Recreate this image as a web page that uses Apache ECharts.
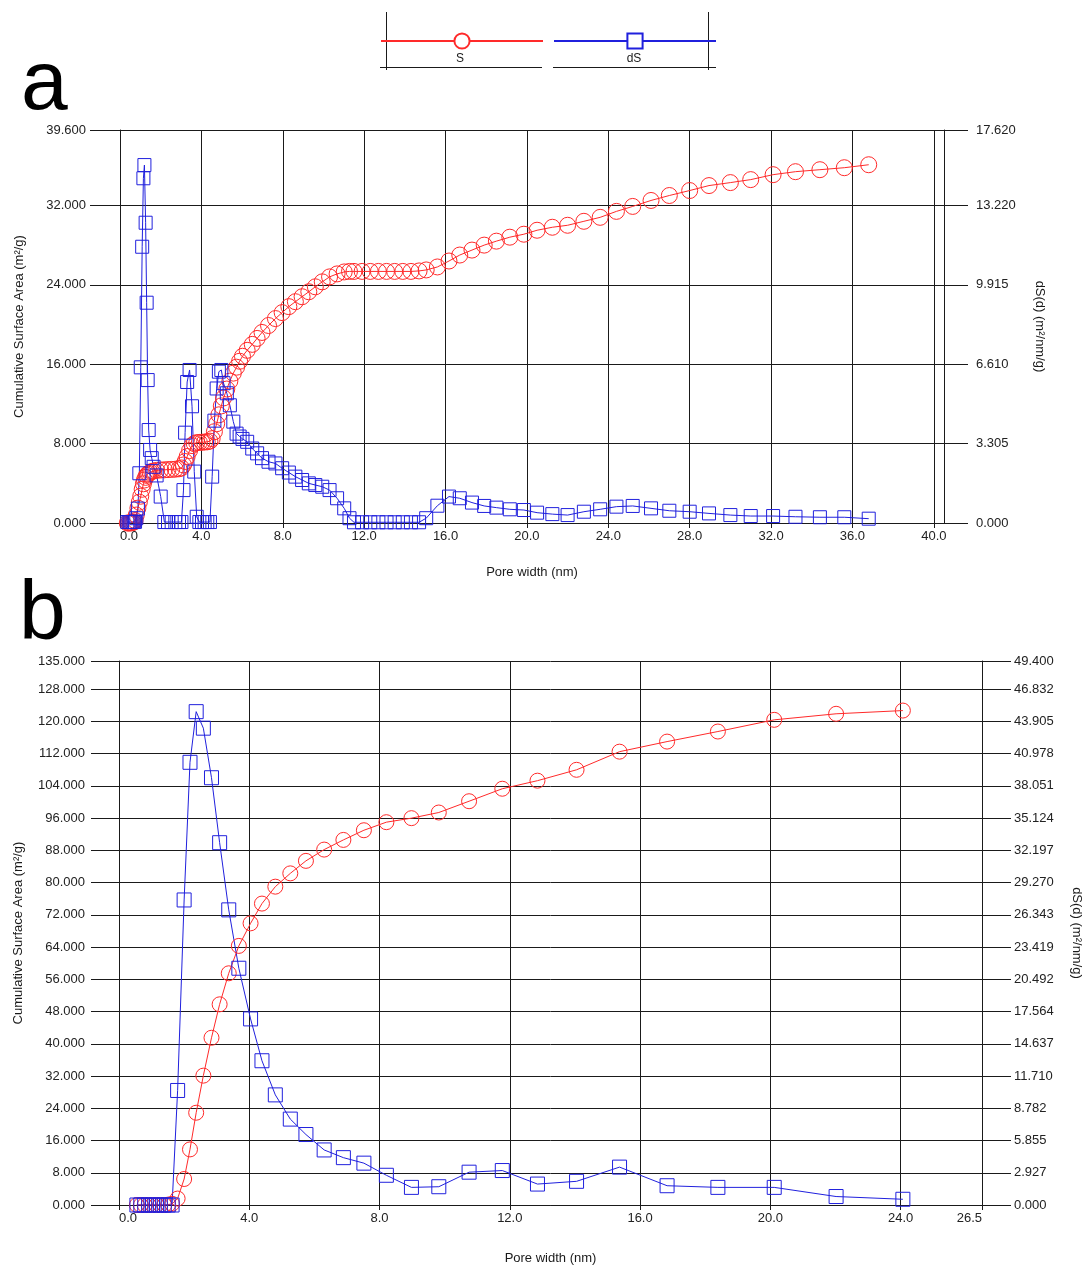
<!DOCTYPE html>
<html>
<head>
<meta charset="utf-8">
<script src="https://cdn.jsdelivr.net/npm/echarts@6/dist/echarts.min.js"></script>
<style>
html,body{margin:0;padding:0;background:#fff;}
#chart{width:1091px;height:1269px;}
</style>
</head>
<body>
<div id="chart"></div>
<script>
// ---------- Panel a data ----------
const poreWidthA = [
  0.36,0.43,0.50,0.56,0.62,0.68,0.74,0.80,0.88,0.95,
  1.02,1.09,1.15,1.20,1.26,1.31,1.36,1.41,1.48,1.56,
  1.65,1.80,2.00,2.18,2.36,2.54,2.72,2.90,3.02,3.12,
  3.20,3.30,3.42,3.54,3.65,3.77,3.90,4.03,4.16,4.29,
  4.42,4.53,4.64,4.75,4.86,4.98,5.09,5.25,5.40,5.57,
  5.73,5.88,6.02,6.25,6.50,6.74,6.98,7.30,7.64,7.97,
  8.30,8.62,8.95,9.28,9.60,9.94,10.30,10.67,11.02,11.28,
  11.50,11.90,12.30,12.70,13.10,13.50,13.90,14.30,14.70,15.05,
  15.60,16.17,16.70,17.30,17.90,18.50,19.16,19.85,20.50,21.25,
  22.00,22.80,23.60,24.40,25.20,26.10,27.00,28.00,28.95,30.00,
  31.00,32.10,33.20,34.40,35.60,36.80
];
const cumAreaA = [
  0.00,0.00,0.00,0.02,0.05,0.10,0.25,0.80,1.50,2.10,
  2.70,3.40,3.95,4.33,4.60,4.80,4.92,5.00,5.10,5.18,
  5.24,5.30,5.34,5.36,5.38,5.40,5.42,5.46,5.55,5.85,
  6.20,6.70,7.30,7.80,8.00,8.10,8.12,8.14,8.16,8.18,
  8.25,8.50,9.20,10.00,10.90,11.80,12.60,13.50,14.30,15.10,
  15.70,16.30,16.80,17.40,18.00,18.60,19.20,19.90,20.60,21.20,
  21.80,22.30,22.80,23.30,23.80,24.30,24.80,25.10,25.30,25.35,
  25.35,25.35,25.35,25.35,25.35,25.35,25.35,25.35,25.40,25.50,
  25.80,26.40,27.00,27.50,28.00,28.40,28.80,29.10,29.50,29.80,
  30.00,30.40,30.80,31.40,31.90,32.50,33.00,33.50,34.00,34.30,
  34.60,35.10,35.40,35.60,35.80,36.10
];
const dSA = [
  0.04,0.04,0.04,0.04,0.04,0.04,0.05,0.20,0.60,2.07,
  6.48,11.50,14.35,14.90,12.50,9.17,5.95,3.87,3.04,2.70,
  2.34,1.98,1.10,0.04,0.04,0.04,0.04,0.04,0.04,1.37,
  3.76,5.87,6.37,4.86,2.14,0.26,0.04,0.04,0.04,0.04,
  0.04,1.93,4.26,5.60,6.30,6.37,5.82,5.40,4.90,4.22,
  3.72,3.60,3.50,3.38,3.10,2.90,2.70,2.55,2.48,2.28,
  2.10,1.93,1.79,1.65,1.58,1.51,1.37,1.03,0.61,0.20,
  0.03,0.03,0.03,0.03,0.03,0.03,0.03,0.03,0.03,0.20,
  0.72,1.10,1.03,0.85,0.71,0.64,0.57,0.54,0.43,0.37,
  0.33,0.47,0.57,0.68,0.71,0.61,0.51,0.47,0.40,0.33,
  0.29,0.29,0.26,0.24,0.24,0.18
];
const rightTickLabelsA = ['0.000','3.305','6.610','9.915','13.220','17.620'];

// ---------- Panel b data ----------
const poreWidthB = [
  0.55,0.67,0.79,0.91,1.03,1.15,1.27,1.39,1.51,1.63,
  1.80,2.00,2.18,2.37,2.59,2.84,3.09,3.37,3.68,4.04,
  4.39,4.80,5.26,5.74,6.30,6.89,7.52,8.21,8.98,9.82,
  10.75,11.77,12.85,14.05,15.37,16.83,18.39,20.12,22.02,24.07
];
const cumAreaB = [
  0,0,0,0,0,0,0,0,0.1,0.3,
  1.6,6.45,13.8,22.9,32.1,41.5,49.8,57.5,64.3,69.9,
  74.8,79.0,82.3,85.4,88.2,90.6,93.0,95.0,96.0,97.4,
  100.2,103.3,105.3,108.0,112.5,115.0,117.5,120.4,121.9,122.7
];
const dSB = [
  0,0,0,0,0,0,0,0,0,0,
  10.4,27.7,40.2,44.8,43.3,38.8,32.9,26.8,21.5,16.9,
  13.1,10.0,7.8,6.4,5.0,4.3,3.8,2.7,1.6,1.66,
  2.98,3.13,1.9,2.15,3.44,1.75,1.6,1.6,0.77,0.52
];
const rightTickLabelsB = ['0.000','2.927','5.855','8.782','11.710','14.637','17.564','20.492','23.419',
  '26.343','29.270','32.197','35.124','38.051','40.978','43.905','46.832','49.400'];

const FONT = '"Liberation Sans", Arial, sans-serif';
const RED = '#ff2a2a';
const BLUE = '#2020dd';
const INK = '#1a1a1a';

const chart = echarts.init(document.getElementById('chart'), null, {renderer:'canvas'});

function xAxisCfg(gi, max, gap, showMax) {
  return {
    gridIndex: gi, type: 'value', min: 0, max: max, interval: 4,
    name: 'Pore width (nm)', nameLocation: 'middle', nameGap: gap,
    nameTextStyle: {color: INK, fontSize: 13, fontFamily: FONT},
    axisLine: {show: true, onZero: false, lineStyle: {color: INK, width: 1}},
    axisTick: {show: true, length: 5, lineStyle: {color: INK}},
    axisLabel: {formatter: v => v.toFixed(1), margin: 7, color: '#222', fontSize: 13, fontFamily: FONT,
      showMinLabel: true, showMaxLabel: showMax, alignMinLabel: 'left', alignMaxLabel: 'right'},
    splitLine: {show: true, lineStyle: {color: INK, width: 1}}
  };
}
function leftAxisCfg(gi, max, tick, gap) {
  return {
    gridIndex: gi, type: 'value', position: 'left', min: 0, max: max, interval: 8,
    name: 'Cumulative Surface Area (m²/g)', nameLocation: 'middle', nameGap: gap, nameRotate: 90,
    nameTextStyle: {color: INK, fontSize: 13, fontFamily: FONT},
    axisLine: {show: true, lineStyle: {color: INK, width: 1}},
    axisTick: {show: true, length: tick, lineStyle: {color: INK}},
    axisLabel: {formatter: v => v.toFixed(3), margin: 34, color: '#222', fontSize: 13, fontFamily: FONT},
    splitLine: {show: true, lineStyle: {color: INK, width: 1}}
  };
}
function rightAxisCfg(gi, max, interval, labels, tick, gap) {
  return {
    gridIndex: gi, type: 'value', position: 'right', min: 0, max: max, interval: interval,
    name: 'dS(d) (m²/nm/g)', nameLocation: 'middle', nameGap: gap, nameRotate: -90,
    nameTextStyle: {color: INK, fontSize: 13, fontFamily: FONT},
    axisLine: {show: true, lineStyle: {color: INK, width: 1}},
    axisTick: {show: true, length: tick, lineStyle: {color: INK}},
    axisLabel: {formatter: (v, i) => (labels[i] !== undefined ? labels[i] : v.toFixed(3)),
      margin: 32, color: '#222', fontSize: 13, fontFamily: FONT},
    splitLine: {show: false}
  };
}
function seriesCfg(name, xi, yi, xs, ys, symbol, size, color) {
  return {
    name: name, type: 'line', xAxisIndex: xi, yAxisIndex: yi,
    data: xs.map((x, i) => [x, ys[i]]),
    symbol: symbol, symbolSize: size, showAllSymbol: true,
    lineStyle: {color: color, width: 1},
    itemStyle: {color: 'rgba(255,255,255,0)', borderColor: color, borderWidth: 1},
    emphasis: {disabled: true}
  };
}

const legendBase = {
  orient: 'horizontal', itemWidth: 162, itemHeight: 19, padding: 0, selectedMode: false,
  formatter: () => '', itemStyle: {color: '#fff'}, textStyle: {fontSize: 1}
};

const option = {
  animation: false,
  backgroundColor: '#fff',
  textStyle: {fontFamily: FONT},
  legend: [
    Object.assign({}, legendBase, {data: ['S'], left: 380, top: 31.5}),
    Object.assign({}, legendBase, {data: ['dS'], left: 553, top: 31.5})
  ],
  graphic: [
    {type: 'line', shape: {x1: 386.5, y1: 12, x2: 386.5, y2: 70}, style: {stroke: INK, lineWidth: 1}},
    {type: 'line', shape: {x1: 708.5, y1: 12, x2: 708.5, y2: 70}, style: {stroke: INK, lineWidth: 1}},
    {type: 'line', shape: {x1: 380, y1: 67.5, x2: 542, y2: 67.5}, style: {stroke: INK, lineWidth: 1}},
    {type: 'line', shape: {x1: 553, y1: 67.5, x2: 716, y2: 67.5}, style: {stroke: INK, lineWidth: 1}},
    {type: 'text', x: 460, y: 59, style: {text: 'S', font: '12px ' + FONT, fill: INK, align: 'center', verticalAlign: 'middle'}},
    {type: 'text', x: 634, y: 59, style: {text: 'dS', font: '12px ' + FONT, fill: INK, align: 'center', verticalAlign: 'middle'}},
    {type: 'text', x: 21, y: 86, style: {text: 'a', font: '84px ' + FONT, fill: '#000', align: 'left', verticalAlign: 'middle'}},
    {type: 'text', x: 19, y: 616, style: {text: 'b', font: '84px ' + FONT, fill: '#000', align: 'left', verticalAlign: 'middle'}}
  ],
  grid: [
    {left: 120, top: 130, width: 824, height: 393},
    {left: 119, top: 661, width: 869, height: 544}
  ],
  xAxis: [
    xAxisCfg(0, 40.5, 43, false),
    xAxisCfg(1, 26.5, 47, true)
  ],
  yAxis: [
    leftAxisCfg(0, 39.6, 30, 94),
    rightAxisCfg(0, 39.6 * 3.305 / 8, 3.305, rightTickLabelsA, 24, 89),
    leftAxisCfg(1, 135, 28, 94),
    rightAxisCfg(1, 49.4, 49.4 * 8 / 135, rightTickLabelsB, 29, 88)
  ],
  series: [
    seriesCfg('S', 0, 0, poreWidthA, cumAreaA, 'circle', 16, RED),
    seriesCfg('dS', 0, 1, poreWidthA, dSA, 'rect', 13, BLUE),
    seriesCfg('S', 1, 2, poreWidthB, cumAreaB, 'circle', 15, RED),
    seriesCfg('dS', 1, 3, poreWidthB, dSB, 'rect', 14, BLUE)
  ]
};
chart.setOption(option);
</script>
</body>
</html>
